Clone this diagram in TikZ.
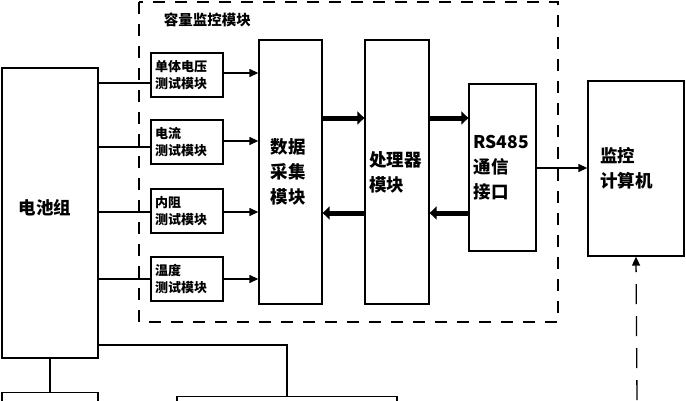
\documentclass[tikz,border=0pt]{standalone}
\usepackage{fontspec}
\setmainfont{Noto Sans CJK SC}
\usetikzlibrary{positioning,arrows.meta}
\begin{document}
\begin{tikzpicture}[x=1pt,y=-1pt,line width=1.3pt,
	every node/.append style={font=\bfseries}]
    \tikzstyle{blk}=[draw=black,inner sep=0pt,align=left]
    \tikzstyle{small}=[blk,minimum width=72pt,minimum height=44pt,font=\bfseries\fontsize{13}{17}\selectfont,text width=64pt]
    \tikzstyle{big}=[blk,font=\bfseries\fontsize{17.5}{25}\selectfont]
    \tikzstyle{fat}=[line width=5pt,-{Triangle[length=7pt,width=13pt]}]
    \tikzstyle{tip}=[-{Triangle[length=9pt,width=8pt]}]
    \clip (0,0) rectangle (686,400);

    % Dashed frame of the monitoring module
    \draw[dashed,dash pattern=on 12pt off 10pt] (139,2) rectangle (558,322);
    \node[anchor=west,font=\bfseries\fontsize{14.5}{16}\selectfont] (title) at (160,20) {容量监控模块};

    % Main blocks
    \node[big,minimum width=96pt,minimum height=290pt,text width=62pt] (bat) at (50,213) {\raisebox{13pt}{电池组}};
    \node[small] (m1) at (187,75) {单体电压\\测试模块};
    \node[small] (m2) at (187,142) {电流\\测试模块};
    \node[small] (m3) at (187,211) {内阻\\测试模块};
    \node[small] (m4) at (187,279) {温度\\测试模块};
    \node[big,minimum width=63pt,minimum height=264pt,text width=40pt] (daq) at (290.5,172) {数据\\采集\\模块};
    \node[big,minimum width=64pt,minimum height=264pt,text width=56pt] (cpu) at (397,172) {处理器\\模块};
    \node[big,minimum width=67pt,minimum height=167pt,text width=58pt] (rs) at (502.5,167.5) {RS485\\通信\\接口};
    \node[big,minimum width=96pt,minimum height=175pt,text width=72pt] (pc) at (636,168.5) {监控\\计算机};
    \node[blk,minimum width=96pt,minimum height=30pt,anchor=north] (b1) at (50,392) {};
    \node[blk,minimum width=220pt,minimum height=30pt,anchor=north] (b2) at (287,396) {};

    % Battery to test modules
    \draw (bat.east |- 0,83) -- (m1.west |- 0,83);
    \draw (bat.east |- 0,147) -- (m2.west |- 0,147);
    \draw (bat.east |- 0,212) -- (m3.west |- 0,212);
    \draw (bat.east |- 0,279) -- (m4.west |- 0,279);

    % Test modules to acquisition
    \foreach \m/\y in {m1/73,m2/141,m3/212,m4/279}
        \draw[tip] (\m.east |- 0,\y) -- (daq.west |- 0,\y);

    % Data bus
    \draw[fat] (daq.east |- 0,118) -- (cpu.west |- 0,118);
    \draw[fat] (cpu.west |- 0,213) -- (daq.east |- 0,213);
    \draw[fat] (cpu.east |- 0,118) -- (rs.west |- 0,118);
    \draw[fat] (rs.west |- 0,213) -- (cpu.east |- 0,213);
    \draw[tip] (rs.east |- 0,168) -- (pc.west |- 0,168);
    \coordinate (pcin) at (637,400);
    \draw[dashed,dash pattern=on 20pt off 12pt,tip] (pcin) -- (pc.south);

    % Lower part
    \draw (bat.south) -- (b1.north);
    \draw (bat.east |- 0,345) -| (b2.north);
\end{tikzpicture}
\end{document}
